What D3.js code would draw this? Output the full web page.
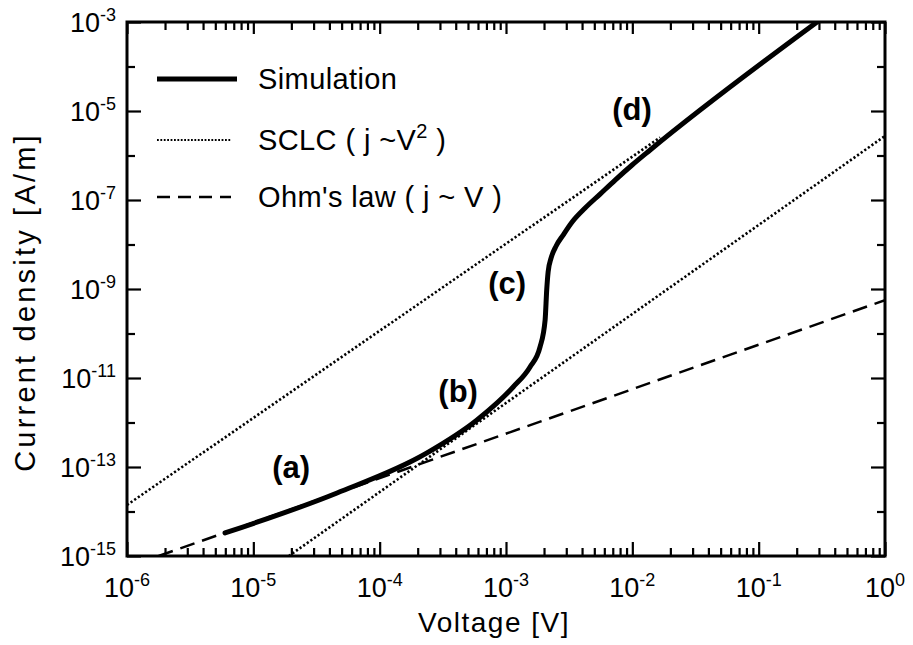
<!DOCTYPE html>
<html>
<head>
<meta charset="utf-8">
<script src="https://cdn.jsdelivr.net/npm/d3@7"></script>
<style>
    body { margin: 0; background: #fff; }
    svg text { font-family: "Liberation Sans", Arial, sans-serif; fill: #000; }
</style>
</head>
<body>
<div id="chart"></div>
<script>
// decade exponents for the tick labels
const xTickExps = [-6, -5, -4, -3, -2, -1, 0];
const yTickExps = [-3, -5, -7, -9, -11, -13, -15];

// simulated J-V curve
const simVoltage = [5.97e-6, 4.60e-5, 2.37e-4, 5.90e-4, 1.14e-3, 1.55e-3, 1.86e-3, 2.04e-3,
    2.10e-3, 2.155e-3, 2.276e-3, 2.493e-3, 2.832e-3, 3.337e-3, 4.23e-3, 5.56e-3, 7.31e-3,
    9.96e-3, 1.383e-2, 0.290];
const simCurrent = [3.29e-15, 2.61e-14, 2.07e-13, 1.14e-12, 6.28e-12, 1.77e-11, 4.98e-11, 2.01e-10,
    9.50e-10, 2.41e-9, 4.98e-9, 9.25e-9, 1.63e-8, 3.21e-8, 6.61e-8, 1.36e-7, 2.81e-7,
    6.12e-7, 1.33e-6, 1.0e-3];

// reference lines (end points)
const sclcHighVoltage = [1e-6, 1.66e-2];
const sclcHighCurrent = [1.40e-14, 2.54e-6];
const sclcLowVoltage = [1.91e-5, 1];
const sclcLowCurrent = [1e-15, 2.75e-6];
const ohmVoltage = [1.78e-6, 1];
const ohmCurrent = [1e-15, 5.6e-10];

const legendLabels = ["Simulation", "SCLC ( j ~V", "Ohm's law ( j ~ V )"];

// region markers
const regionLabels = ["(a)", "(b)", "(c)", "(d)"];
const regionVoltage = [1.99e-5, 4.18e-4, 1.02e-3, 9.95e-3];
const regionCurrent = [9.0e-14, 4.6e-12, 1.23e-9, 1.0e-5];

class JVPlot {
    constructor(parentElement) {
        this.parentElement = parentElement;
        this.initVis();
    }

    initVis() {
        let vis = this;
        vis.width = 913;
        vis.height = 645;
        vis.frame = {left: 127, right: 885, top: 22, bottom: 556};

        vis.svg = d3.select("#" + vis.parentElement).append("svg")
            .attr("width", vis.width)
            .attr("height", vis.height);

        vis.x = d3.scaleLog().domain([1e-6, 1]).range([vis.frame.left, vis.frame.right]);
        vis.y = d3.scaleLog().domain([1e-15, 1e-3]).range([vis.frame.bottom, vis.frame.top]);

        vis.svg.append("clipPath").attr("id", "plotClip")
            .append("rect")
            .attr("x", vis.frame.left).attr("y", vis.frame.top)
            .attr("width", vis.frame.right - vis.frame.left)
            .attr("height", vis.frame.bottom - vis.frame.top);

        vis.drawAxes();
        vis.drawLines();
        vis.drawLegend();
    }

    drawAxes() {
        let vis = this;
        let xMajor = xTickExps.map(e => Math.pow(10, e));
        let xMinor = [];
        xTickExps.slice(0, -1).forEach(e => {
            d3.range(2, 10).forEach(m => xMinor.push(m * Math.pow(10, e)));
        });
        let yAll = d3.range(-15, -2).map(e => Math.pow(10, e));
        let yMajor = yTickExps.map(e => Math.pow(10, e));
        let yMinor = yAll.filter(v => !yMajor.includes(v));

        const addAxis = (axis, tx, ty) => {
            let g = vis.svg.append("g")
                .attr("transform", `translate(${tx},${ty})`)
                .call(axis.tickFormat(""));
            g.select(".domain").remove();
            g.selectAll("line").attr("stroke", "#000").attr("stroke-width", 2.2);
        };

        // bottom and top
        addAxis(d3.axisBottom(vis.x).tickValues(xMajor).tickSize(-14), 0, vis.frame.bottom);
        addAxis(d3.axisBottom(vis.x).tickValues(xMinor).tickSize(-8), 0, vis.frame.bottom);
        addAxis(d3.axisTop(vis.x).tickValues(xMajor).tickSize(-12), 0, vis.frame.top);
        addAxis(d3.axisTop(vis.x).tickValues(xMinor).tickSize(-8), 0, vis.frame.top);
        // left and right
        addAxis(d3.axisLeft(vis.y).tickValues(yMajor).tickSize(-14), vis.frame.left, 0);
        addAxis(d3.axisLeft(vis.y).tickValues(yMinor).tickSize(-8), vis.frame.left, 0);
        addAxis(d3.axisRight(vis.y).tickValues(yMajor).tickSize(-14), vis.frame.right, 0);
        addAxis(d3.axisRight(vis.y).tickValues(yMinor).tickSize(-8), vis.frame.right, 0);

        // frame
        vis.svg.append("rect")
            .attr("x", vis.frame.left).attr("y", vis.frame.top)
            .attr("width", vis.frame.right - vis.frame.left)
            .attr("height", vis.frame.bottom - vis.frame.top)
            .attr("fill", "none").attr("stroke", "#000").attr("stroke-width", 3);

        // power-of-ten labels
        const powerLabel = (sel) => {
            sel.append("tspan").attr("font-size", 27).text("10");
            sel.append("tspan").attr("font-size", 18).attr("dy", -11).text(d => d);
        };

        vis.svg.selectAll(".xlabel")
            .data(xTickExps).enter()
            .append("text").attr("class", "xlabel")
            .attr("x", d => vis.x(Math.pow(10, d)))
            .attr("y", 597)
            .attr("text-anchor", "middle")
            .call(powerLabel);

        vis.svg.selectAll(".ylabel")
            .data(yTickExps).enter()
            .append("text").attr("class", "ylabel")
            .attr("x", 116)
            .attr("y", d => vis.y(Math.pow(10, d)) + 10)
            .attr("text-anchor", "end")
            .call(powerLabel);

        vis.svg.append("text")
            .attr("x", 494).attr("y", 632)
            .attr("text-anchor", "middle")
            .attr("font-size", 28)
            .attr("letter-spacing", 1.5)
            .text("Voltage [V]");

        vis.svg.append("text")
            .attr("transform", "translate(35,302) rotate(-90)")
            .attr("text-anchor", "middle")
            .attr("font-size", 29)
            .attr("letter-spacing", 3.2)
            .text("Current density [A/m]");
    }

    drawLines() {
        let vis = this;
        let plot = vis.svg.append("g").attr("clip-path", "url(#plotClip)");

        let line = d3.line()
            .x(d => vis.x(d[0]))
            .y(d => vis.y(d[1]));

        plot.append("path")
            .datum(d3.zip(ohmVoltage, ohmCurrent))
            .attr("d", line)
            .attr("fill", "none").attr("stroke", "#000")
            .attr("stroke-width", 2.5)
            .attr("stroke-dasharray", "15,8");

        [[sclcHighVoltage, sclcHighCurrent], [sclcLowVoltage, sclcLowCurrent]].forEach(s => {
            plot.append("path")
                .datum(d3.zip(s[0], s[1]))
                .attr("d", line)
                .attr("fill", "none").attr("stroke", "#000")
                .attr("stroke-width", 2.6)
                .attr("stroke-dasharray", "2.2,2.2");
        });

        plot.append("path")
            .datum(d3.zip(simVoltage, simCurrent))
            .attr("d", line.curve(d3.curveMonotoneX))
            .attr("fill", "none").attr("stroke", "#000")
            .attr("stroke-width", 5)
            .attr("stroke-linecap", "round");

        vis.svg.selectAll(".region")
            .data(regionLabels).enter()
            .append("text").attr("class", "region")
            .attr("x", (d, i) => vis.x(regionVoltage[i]))
            .attr("y", (d, i) => vis.y(regionCurrent[i]) + 9)
            .attr("text-anchor", "middle")
            .attr("font-size", 31)
            .attr("font-weight", "bold")
            .text(d => d);
    }

    drawLegend() {
        let vis = this;
        let rows = [
            {y: 79, width: 5, dash: null},
            {y: 140, width: 2.2, dash: "1.8,1.6"},
            {y: 197, width: 2.5, dash: "13,8"}
        ];
        rows.forEach((r, i) => {
            vis.svg.append("line")
                .attr("x1", 157).attr("x2", i === 0 ? 237 : 231)
                .attr("y1", r.y).attr("y2", r.y)
                .attr("stroke", "#000")
                .attr("stroke-width", r.width)
                .attr("stroke-dasharray", r.dash);
            let t = vis.svg.append("text")
                .attr("x", 258).attr("y", r.y + 10)
                .attr("font-size", 29)
                .attr("letter-spacing", 0.4)
                .text(legendLabels[i]);
            if (i === 1) {
                t.append("tspan").attr("font-size", 20).attr("dy", -12).text("2");
                t.append("tspan").attr("dy", 12).text(" )");
            }
        });
    }
}

new JVPlot("chart");
</script>
</body>
</html>
